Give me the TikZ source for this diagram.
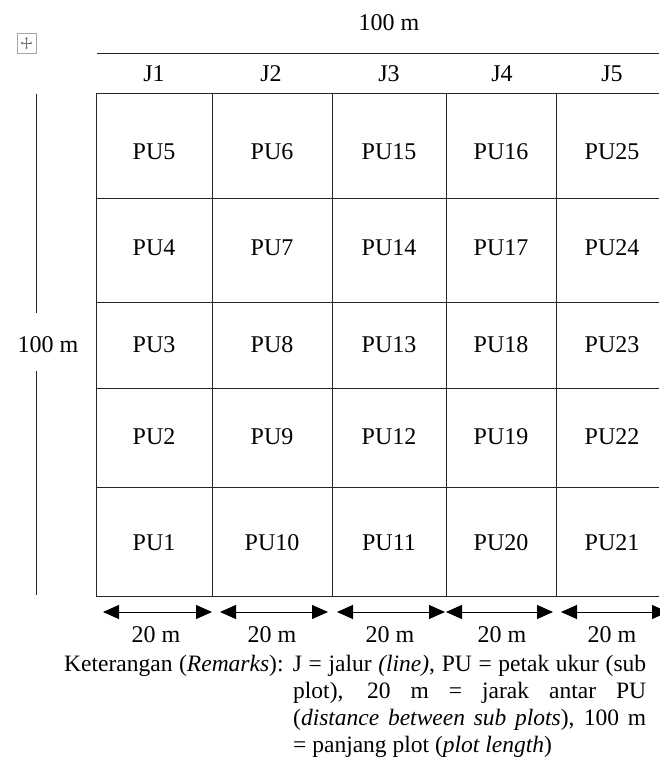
\documentclass[tikz,border=0pt]{standalone}
\usepackage{fontspec}
\setmainfont{Liberation Serif}
\usetikzlibrary{arrows.meta}
\begin{document}
\begin{tikzpicture}[x=1pt,y=-1pt,
  lbl/.style={font=\fontsize{24}{28}\selectfont, inner sep=0pt},
  gridline/.style={draw=black!85, line width=1pt},
  dimarrow/.style={{Triangle[length=16pt,width=14pt]}-{Triangle[length=16pt,width=14pt]}, line width=1pt, draw=black},
  handle/.style={draw=black!35, line width=1pt}]
\useasboundingbox (0,0) rectangle (659,763);

% table move handle
\draw[handle] (17,33) rectangle (36,53);
\draw[black!55, line width=0.8pt, {Latex[length=2pt,width=3pt]}-{Latex[length=2pt,width=3pt]}] (20.5,43) -- (32.5,43);
\draw[black!55, line width=0.8pt, {Latex[length=2pt,width=3pt]}-{Latex[length=2pt,width=3pt]}] (26.5,37) -- (26.5,49.5);

% top dimension
\node[lbl] (T100) at (389,23) {100 m};
\draw[gridline] (97,53) -- (659,53);

% header labels
\node[lbl] (J1) at (154,74) {J1};
\node[lbl] (J2) at (271,74) {J2};
\node[lbl] (J3) at (389,74) {J3};
\node[lbl] (J4) at (502,74) {J4};
\node[lbl] (J5) at (612,74) {J5};

% grid
\foreach \yy in {93,198,302,388,487,596}
  \draw[gridline] (96,\yy) -- (659,\yy);
\foreach \xx in {96,212,332,446,556}
  \draw[gridline] (\xx,93) -- (\xx,596);

% cell labels
\foreach \lab/\xx in {PU5/154,PU6/272,PU15/389,PU16/501,PU25/612}
  \node[lbl] (\lab) at (\xx,152) {\lab};
\foreach \lab/\xx in {PU4/154,PU7/272,PU14/389,PU17/501,PU24/612}
  \node[lbl] (\lab) at (\xx,248) {\lab};
\foreach \lab/\xx in {PU3/154,PU8/272,PU13/389,PU18/501,PU23/612}
  \node[lbl] (\lab) at (\xx,345) {\lab};
\foreach \lab/\xx in {PU2/154,PU9/272,PU12/389,PU19/501,PU22/612}
  \node[lbl] (\lab) at (\xx,437) {\lab};
\foreach \lab/\xx in {PU1/154,PU10/272,PU11/389,PU20/501,PU21/612}
  \node[lbl] (\lab) at (\xx,543) {\lab};

% left dimension
\node[lbl] (L100) at (48,345) {100 m};
\coordinate (lv1) at (36,94);
\coordinate (lv2) at (36,313);
\coordinate (lv3) at (36,371);
\coordinate (lv4) at (36,595);
\draw[gridline] (lv1) -- (lv2);
\draw[gridline] (lv3) -- (lv4);

% bottom dimension arrows
\coordinate (d1s) at (103,612); \coordinate (d1e) at (212,612);
\coordinate (d2s) at (220,612); \coordinate (d2e) at (328,612);
\coordinate (d3s) at (337,612); \coordinate (d3e) at (445,612);
\coordinate (d4s) at (446,612); \coordinate (d4e) at (553,612);
\coordinate (d5s) at (561,612); \coordinate (d5e) at (668,612);
\draw[dimarrow] (d1s) -- (d1e);
\draw[dimarrow] (d2s) -- (d2e);
\draw[dimarrow] (d3s) -- (d3e);
\draw[dimarrow] (d4s) -- (d4e);
\draw[dimarrow] (d5s) -- (d5e);
\node[lbl] (m1) at (156,635) {20 m};
\node[lbl] (m2) at (272,635) {20 m};
\node[lbl] (m3) at (390,635) {20 m};
\node[lbl] (m4) at (502,635) {20 m};
\node[lbl] (m5) at (612,635) {20 m};

% remarks
\node[anchor=base west, inner sep=0pt, font=\fontsize{23.5}{27.3}\selectfont] (rem) at (64,671)
  {\parbox[t]{582pt}{\tolerance=10000\hyphenpenalty=10000\spaceskip=0.25em plus 1em minus 0.15em
   \hangindent=229pt\hangafter=1\noindent
   Keterangan (\textit{Remarks}): J = jalur \textit{(line)}, PU = petak ukur (sub\linebreak
   plot), 20 m = jarak antar PU\linebreak
   (\textit{distance between sub plots}), 100 m\linebreak
   = panjang plot (\textit{plot length})}};
\end{tikzpicture}
\end{document}
